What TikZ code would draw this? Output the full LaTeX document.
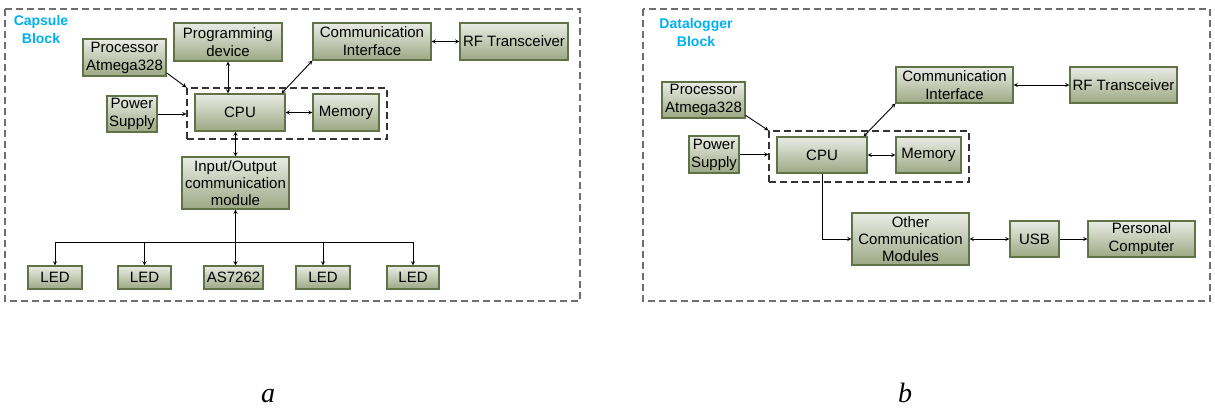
\documentclass[tikz,border=0pt]{standalone}
\usepackage{fontspec}
\setmainfont{Liberation Sans}
\newfontfamily\captionfont{Liberation Serif}
\usepackage{xcolor}
\usetikzlibrary{arrows,shapes}
\usetikzlibrary{positioning}
\definecolor{boxTop}{RGB}{234,236,229}
\definecolor{boxBottom}{RGB}{156,168,132}
\definecolor{boxLine}{RGB}{96,114,70}
\definecolor{titleBlue}{RGB}{0,176,240}
\definecolor{panelGray}{RGB}{110,110,110}
\tikzstyle{block} = [rectangle, draw=boxLine, line width=1.1pt, top color=boxTop, bottom color=boxBottom, align=center, inner sep=0pt, minimum height=37pt, font=\fontsize{15}{18}\selectfont]
\tikzstyle{arrow} = [line width=0.9pt,->,>=stealth]
\tikzstyle{darrow} = [line width=0.9pt,<->,>=stealth]
\tikzstyle{panel} = [draw=panelGray, line width=1.3pt, dash pattern=on 7pt off 4pt]
\tikzstyle{group} = [rectangle, draw=black!80, line width=1.1pt, dash pattern=on 7pt off 4pt, inner sep=0pt]
\tikzstyle{blockTitle} = [text=titleBlue, align=center, font=\fontsize{14}{18.5}\selectfont\bfseries]
\tikzstyle{caption} = [anchor=base, font=\captionfont\itshape\fontsize{28}{28}\selectfont]

\begin{document}
\begin{tikzpicture}[x=1pt, y=-1pt]
                            \useasboundingbox (0,0) rectangle (1215,411);
                            % a: capsule block
                            \draw [panel] (5,9) rectangle (580,301);
                            \node (titleA) [blockTitle] at (41,29.5) {Capsule\\Block};
                            \node (grpA) [group, minimum width=200pt, minimum height=51pt] at (287,113.5) {};
                            \node (proc) [block, minimum width=83pt] at (124.5,57.5) {Processor\\Atmega328};
                            \node (prog) [block, minimum width=108pt, minimum height=38pt] at (228,42) {Programming\\device};
                            \node (comm) [block, minimum width=118pt] at (372,41.5) {Communication\\Interface};
                            \node (rf) [block, minimum width=108pt] at (514,41.5) {RF Transceiver};
                            \node (power) [block, minimum width=50pt, minimum height=36pt] at (132,114) {Power\\Supply};
                            \node (cpu) [block, minimum width=90pt] at (240,112.5) {CPU};
                            \node (mem) [block, minimum width=66pt] at (346,112.5) {Memory};
                            \node (io) [block, minimum width=107pt, minimum height=52pt, font=\fontsize{15}{17}\selectfont] at (235.5,183) {Input/Output\\communication\\module};
                            \node (led1) [block, minimum width=54pt, minimum height=23pt] at (55,277.5) {LED};
                            \node (led2) [block, minimum width=53pt, minimum height=23pt] at (144.5,277.5) {LED};
                            \node (as) [block, minimum width=59pt, minimum height=23pt] at (233.5,277.5) {AS7262};
                            \node (led3) [block, minimum width=54pt, minimum height=23pt] at (323,277.5) {LED};
                            \node (led4) [block, minimum width=52pt, minimum height=23pt] at (413,277.5) {LED};
                            \coordinate (busL) at (55,242);
                            \coordinate (busR) at (413,242);
                            \draw [arrow] (proc.-20) -- (grpA.north west);
                            \draw [arrow] (power.east) -- (power.east -| grpA.west);
                            \draw [darrow] (prog.south) -- (prog.south |- cpu.north);
                            \draw [darrow] ([xshift=-4pt]cpu.north east) -- (comm.south west);
                            \draw [darrow] (cpu.east) -- (mem.west);
                            \draw [darrow] (comm.east) -- (rf.west);
                            \draw [darrow] (io.north) -- (io.north |- cpu.south);
                            \draw [darrow] (io.south) -- (io.south |- as.north);
                            \draw [line width=0.9pt] (busL) -- (busR);
                            \foreach \led in {led1,led2,led3,led4}
                                \draw [arrow] (\led.north |- busL) -- (\led.north);
                            % b: datalogger block
                            \draw [panel] (643,9) rectangle (1210,301);
                            \node (titleB) [blockTitle] at (696,32.5) {Datalogger\\Block};
                            \node (grpB) [group, minimum width=200pt, minimum height=51pt] at (869,156.5) {};
                            \node (procB) [block, minimum width=83pt, minimum height=36pt] at (703.5,100) {Processor\\Atmega328};
                            \node (powerB) [block, minimum width=50pt] at (714,154.5) {Power\\Supply};
                            \node (cpuB) [block, minimum width=90pt, minimum height=36pt] at (822,155) {CPU};
                            \node (memB) [block, minimum width=65pt, minimum height=36pt] at (928.5,155) {Memory};
                            \node (commB) [block, minimum width=117pt, minimum height=36pt] at (954.5,85) {Communication\\Interface};
                            \node (rfB) [block, minimum width=107pt, minimum height=36pt] at (1123.5,85) {RF Transceiver};
                            \node (otherB) [block, minimum width=117pt, minimum height=52pt, font=\fontsize{15}{17}\selectfont] at (910.5,239) {Other\\Communication\\Modules};
                            \node (usbB) [block, minimum width=49pt, minimum height=36pt] at (1034.5,239) {USB};
                            \node (pcB) [block, minimum width=107pt, minimum height=36pt] at (1141.5,239) {Personal\\Computer};
                            \draw [arrow] (procB.-20) -- (grpB.north west);
                            \draw [arrow] (powerB.east) -- (powerB.east -| grpB.west);
                            \draw [darrow] ([xshift=-4pt]cpuB.north east) -- (commB.south west);
                            \draw [darrow] (cpuB.east) -- (memB.west);
                            \draw [darrow] (commB.east) -- (rfB.west);
                            \draw [arrow] (cpuB.south) |- (otherB.west);
                            \draw [darrow] (otherB.east) -- (usbB.west);
                            \draw [arrow] (usbB.east) -- (pcB.west);
                            % captions
                            \node (capA) [caption] at (268,402) {a};
                            \node (capB) [caption] at (905,402) {b};
                        \end{tikzpicture}
\end{document}
